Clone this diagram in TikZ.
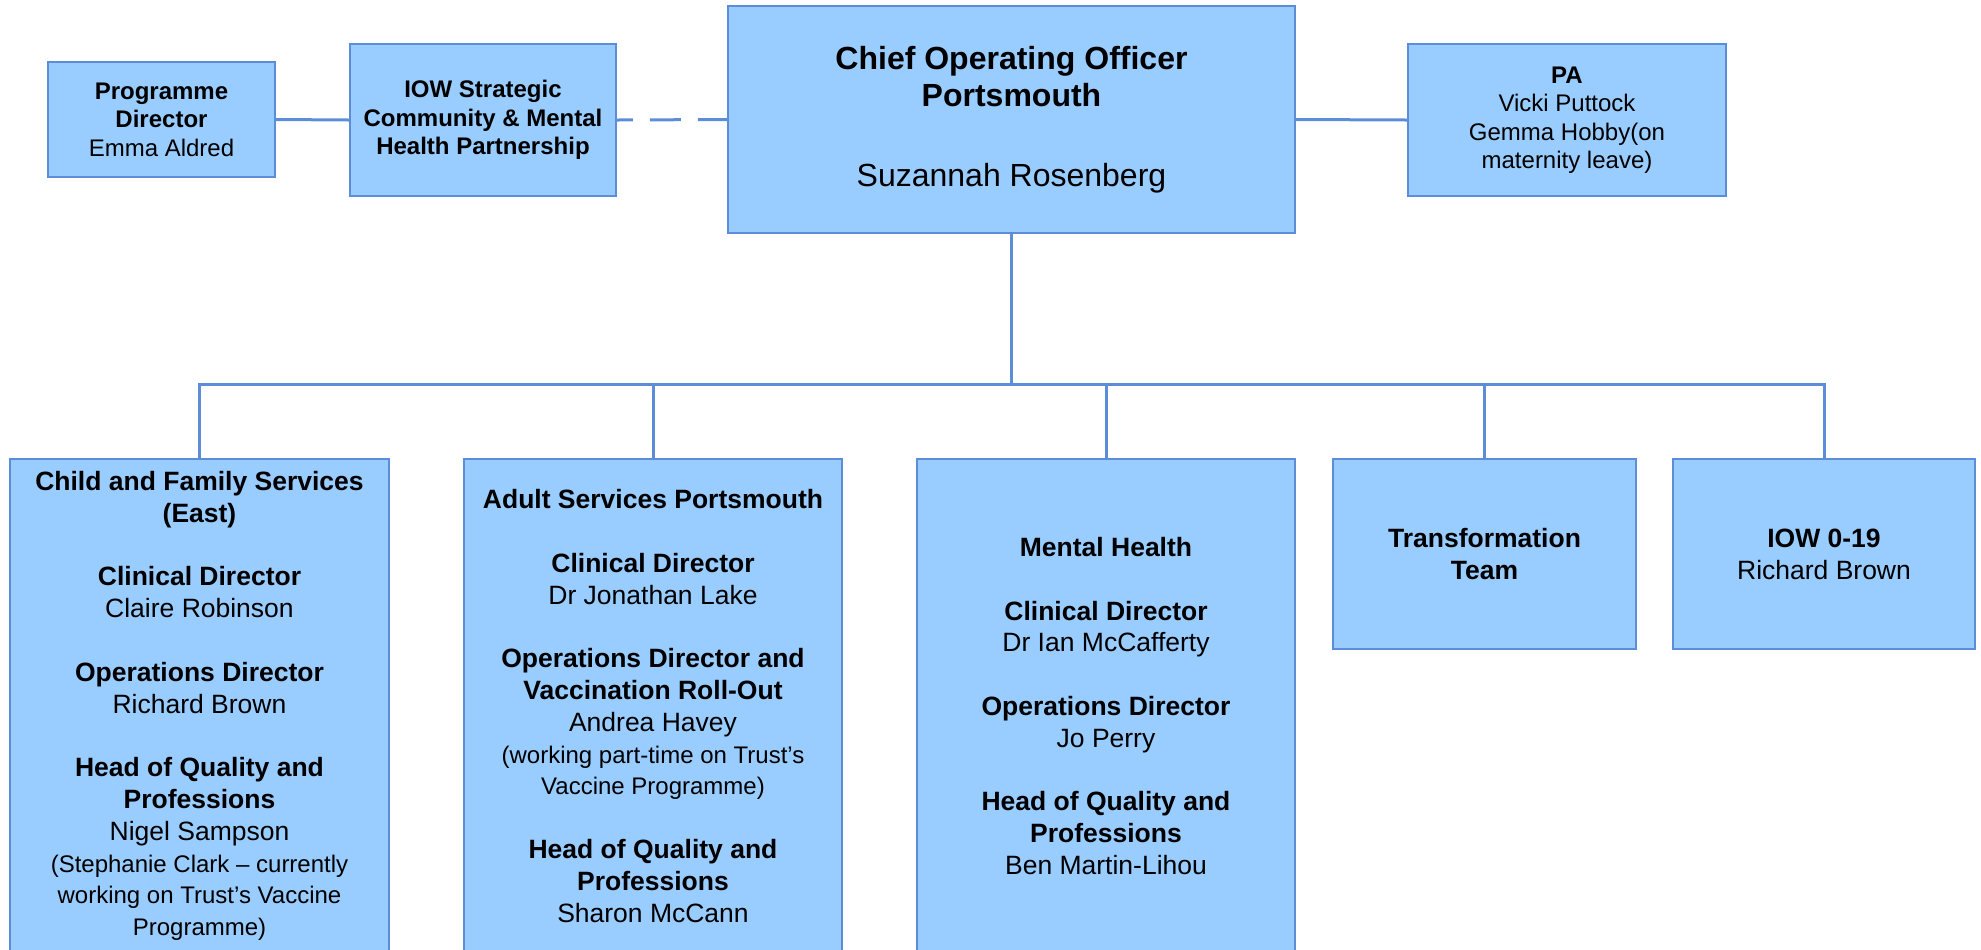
\documentclass[tikz,border=0pt]{standalone}
\usepackage{fontspec}
\setmainfont{Liberation Sans}
\definecolor{boxfill}{HTML}{99CCFF}
\definecolor{boxline}{HTML}{5B8DD9}
\newcommand{\topfnt}{\fontsize{12}{14.25}\selectfont}
\newcommand{\botfnt}{\fontsize{13.25}{15.9}\selectfont}
\newcommand{\notefnt}{\fontsize{12}{15.9}\selectfont}
\newcommand{\coofnt}{\fontsize{16}{18.5}\selectfont}
\begin{document}
\begin{tikzpicture}[x=0.5pt,y=-0.5pt,
  box/.style={draw=boxline, fill=boxfill, line width=1.2pt, align=center, inner sep=0pt, text=black},
  conn/.style={draw=boxline, line width=1.5pt}]
\useasboundingbox (0,0) rectangle (1981,949);
\clip (0,0) rectangle (1981,949);

% top row
\node[box, minimum width=113.5pt, minimum height=57.5pt, font=\topfnt] (prog) at (161.5,119.5)
  {\textbf{Programme}\\\textbf{Director}\\Emma Aldred};
\node[box, minimum width=133pt, minimum height=76pt, font=\topfnt] (iow) at (483,120)
  {\textbf{IOW Strategic}\\\textbf{Community \& Mental}\\\textbf{Health Partnership}};
\node[box, minimum width=283.5pt, minimum height=113.5pt, font=\coofnt] (coo) at (1011.5,119.5)
  {\textbf{Chief Operating Officer}\\\textbf{Portsmouth}\\[21.5pt]Suzannah Rosenberg};
\node[box, minimum width=159pt, minimum height=76pt, font=\topfnt] (pa) at (1567,120)
  {\textbf{PA}\\Vicki Puttock\\Gemma Hobby(on\\maternity leave)};

% bottom row
\node[box, minimum width=189.5pt, minimum height=247pt, font=\botfnt] (child) at (199.5,706)
  {\textbf{Child and Family Services}\\\textbf{(East)}\\[15.9pt]
   \textbf{Clinical Director}\\Claire Robinson\\[15.9pt]
   \textbf{Operations Director}\\Richard Brown\\[15.9pt]
   \textbf{Head of Quality and}\\\textbf{Professions}\\Nigel Sampson\\
   {\notefnt (Stephanie Clark – currently}\\{\notefnt working on Trust’s Vaccine}\\{\notefnt Programme)}};
\node[box, minimum width=189pt, minimum height=247pt, font=\botfnt] (adult) at (653,706)
  {\textbf{Adult Services Portsmouth}\\[15.9pt]
   \textbf{Clinical Director}\\Dr Jonathan Lake\\[15.9pt]
   \textbf{Operations Director and}\\\textbf{Vaccination Roll-Out}\\Andrea Havey\\
   {\notefnt (working part-time on Trust’s}\\{\notefnt Vaccine Programme)}\\[15.9pt]
   \textbf{Head of Quality and}\\\textbf{Professions}\\Sharon McCann};
\node[box, minimum width=189pt, minimum height=247pt, font=\botfnt] (mh) at (1106,706)
  {\textbf{Mental Health}\\[15.9pt]
   \textbf{Clinical Director}\\Dr Ian McCafferty\\[15.9pt]
   \textbf{Operations Director}\\Jo Perry\\[15.9pt]
   \textbf{Head of Quality and}\\\textbf{Professions}\\Ben Martin-Lihou};
\node[box, minimum width=151.5pt, minimum height=95pt, font=\botfnt] (tt) at (1484.5,554)
  {\textbf{Transformation}\\\textbf{Team}};
\node[box, minimum width=151pt, minimum height=95pt, font=\botfnt] (iowy) at (1824,554)
  {\textbf{IOW 0-19}\\Richard Brown};

% connectors
\draw[conn] (prog.east) -- (iow.west);
\draw[conn, dash pattern=on 15.5pt off 8.5pt, dash phase=1pt] (coo.west) -- (iow.east);
\draw[conn] (coo.east) -- (pa.west);
\coordinate (bus) at (1011.5,384);
\foreach \n in {child,adult,mh,tt,iowy}
  \draw[conn] (coo.south) -- (coo.south |- bus) -| (\n.north);
\end{tikzpicture}
\end{document}
